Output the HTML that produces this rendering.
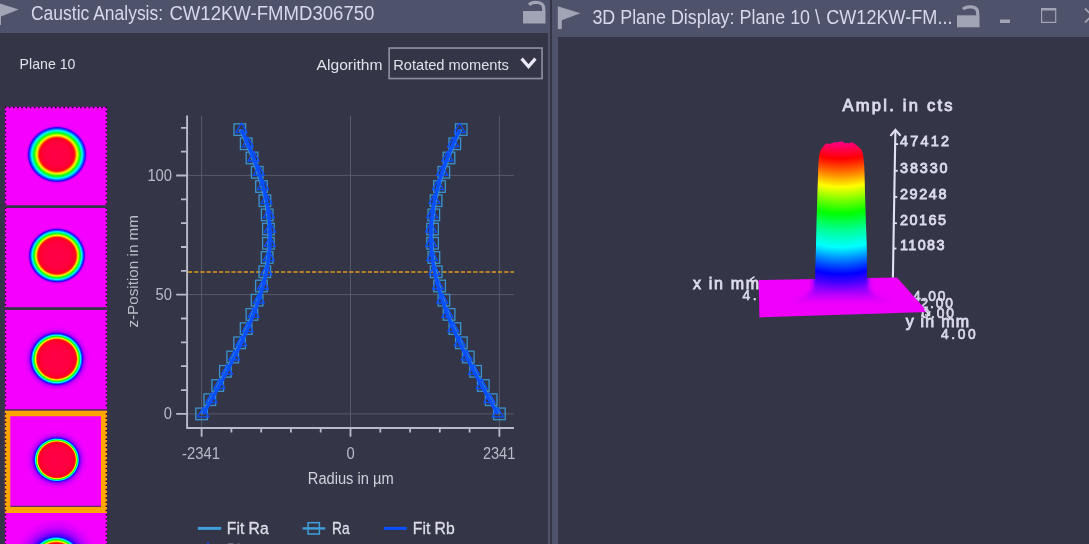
<!DOCTYPE html>
<html lang="en">
<head>
<meta charset="utf-8">
<title>Caustic Analysis</title>
<style>
html,body{margin:0;padding:0;}
body{width:1089px;height:544px;overflow:hidden;background:#343547;position:relative;font-family:"Liberation Sans",sans-serif;color:#dcdde6;}
.abs{position:absolute;}
.t{position:absolute;white-space:nowrap;line-height:1;}
#ltitle{left:0;top:0;width:550px;height:33px;background:#4e526b;}
#rframe{left:552px;top:0;width:537px;height:544px;background:#4e526b;}
#rbody{left:558px;top:37px;width:532px;height:507px;background:#343547;}
#strip1{left:548px;top:33px;width:2px;height:511px;background:#4e526b;}
#strip2{left:550px;top:0;width:2px;height:544px;background:#343547;}
.title{font-size:19.5px;color:#d6d9ec;}
.ui{font-size:14.6px;color:#e2e3ec;}
#sel{left:388.3px;top:47.2px;width:151.4px;height:29px;border:1.6px solid #8b8d9d;}
.thumb{position:absolute;left:4.6px;width:102.6px;background:#f500ff;overflow:hidden;}
.ax{font-size:16px;fill:#babbc9;font-family:"Liberation Sans",sans-serif;}
.lg{font-size:17.2px;fill:#dcdde8;stroke:#dcdde8;stroke-width:0.35px;font-family:"Liberation Sans",sans-serif;}
.b3{font-weight:normal;fill:#dadaec;stroke:#dadaec;stroke-width:0.65px;font-family:"Liberation Sans",sans-serif;}
svg{position:absolute;left:0;top:0;}
</style>
</head>
<body>
<!-- left panel -->
<div class="abs" id="ltitle"></div>
<div class="abs" id="strip1"></div>
<div class="abs" id="strip2"></div>
<div class="abs" id="rframe"></div>
<div class="abs" id="rbody"></div>



<svg width="1089" height="544" viewBox="0 0 1089 544">
<defs>
<linearGradient id="colg" gradientUnits="userSpaceOnUse" x1="0" y1="142" x2="0" y2="305"><stop offset="0.0000" stop-color="#ff0088"/><stop offset="0.0368" stop-color="#ff0058"/><stop offset="0.0675" stop-color="#ff0030"/><stop offset="0.1025" stop-color="#ff0000"/><stop offset="0.1534" stop-color="#ff4400"/><stop offset="0.2086" stop-color="#ff9400"/><stop offset="0.2761" stop-color="#ffff00"/><stop offset="0.3436" stop-color="#90ff00"/><stop offset="0.4387" stop-color="#00ff00"/><stop offset="0.5399" stop-color="#00ff90"/><stop offset="0.6460" stop-color="#00ffff"/><stop offset="0.7239" stop-color="#0080ff"/><stop offset="0.8098" stop-color="#0000ff"/><stop offset="0.8589" stop-color="#3c00ff"/><stop offset="0.9018" stop-color="#8000ff" stop-opacity="0.55"/><stop offset="0.9448" stop-color="#c400fc" stop-opacity="0"/><stop offset="0.9877" stop-color="#f000fa" stop-opacity="0"/></linearGradient><linearGradient id="colg2" gradientUnits="userSpaceOnUse" x1="0" y1="142" x2="0" y2="305"><stop offset="0.0000" stop-color="#ff0088"/><stop offset="0.0368" stop-color="#ff0058"/><stop offset="0.0675" stop-color="#ff0030"/><stop offset="0.1025" stop-color="#ff0000"/><stop offset="0.1534" stop-color="#ff4400"/><stop offset="0.2086" stop-color="#ff9400"/><stop offset="0.2761" stop-color="#ffff00"/><stop offset="0.3436" stop-color="#90ff00"/><stop offset="0.4387" stop-color="#00ff00"/><stop offset="0.5399" stop-color="#00ff90"/><stop offset="0.6460" stop-color="#00ffff"/><stop offset="0.7239" stop-color="#0080ff"/><stop offset="0.8098" stop-color="#0000ff"/><stop offset="0.8589" stop-color="#3c00ff"/><stop offset="0.9018" stop-color="#8000ff"/><stop offset="0.9448" stop-color="#c400fc"/><stop offset="0.9877" stop-color="#f000fa"/></linearGradient>
<filter id="blur3" x="-20%" y="-20%" width="140%" height="140%"><feGaussianBlur stdDeviation="2.4"/></filter>
<clipPath id="planeclip"><path d="M758.7 280 L897 277.5 L927.7 312 L759.4 317.4 Z"/></clipPath>
<clipPath id="colclip"><path d="M815 293 L815.2 270 L815.9 250 L817.2 200 L818.3 166 L819.2 154.7 L820.9 149.7 L822.6 147.5 L824.3 145.2 L826.0 143.8 L827.7 143.6 L829.4 144.0 L831.0 143.4 L832.7 143.1 L834.4 141.9 L836.1 142.5 L837.8 141.9 L839.5 141.7 L841.2 141.6 L842.9 141.8 L844.6 143.2 L846.3 143.0 L848.0 143.0 L849.7 143.2 L851.4 142.2 L853.0 142.8 L854.7 144.0 L856.4 145.1 L858.1 146.6 L859.8 148.4 L861.5 149.6 L863.2 155.4 L864.2 166 L865.2 200 L866.8 250 L866.9 270 L867 293 Z"/></clipPath>
<radialGradient id="tg0" gradientUnits="userSpaceOnUse" cx="57.0" cy="154.5" r="31.5" gradientTransform="translate(0 154.5) scale(1 0.9452) translate(0 -154.5)"><stop offset="0.0000" stop-color="#ff0048"/><stop offset="0.3956" stop-color="#ff0040"/><stop offset="0.5255" stop-color="#ff0028"/><stop offset="0.5651" stop-color="#ff2000"/><stop offset="0.6055" stop-color="#ff9800"/><stop offset="0.6458" stop-color="#f8ff00"/><stop offset="0.7064" stop-color="#30ff00"/><stop offset="0.7468" stop-color="#00ff40"/><stop offset="0.8006" stop-color="#00ffff"/><stop offset="0.8545" stop-color="#0070ff"/><stop offset="0.9016" stop-color="#2800ff"/><stop offset="0.9213" stop-color="#7c00ff"/><stop offset="0.9331" stop-color="#c000ff"/><stop offset="0.9626" stop-color="#e400ff"/><stop offset="1.0000" stop-color="#f500ff"/></radialGradient>
<clipPath id="tc0"><rect x="4.6" y="106.6" width="102.6" height="98.9"/></clipPath>
<radialGradient id="tg1" gradientUnits="userSpaceOnUse" cx="57.0" cy="255.6" r="30.5" gradientTransform="translate(0 255.6) scale(1 0.9609) translate(0 -255.6)"><stop offset="0.0000" stop-color="#ff0048"/><stop offset="0.4407" stop-color="#ff0040"/><stop offset="0.5854" stop-color="#ff0028"/><stop offset="0.6295" stop-color="#ff2000"/><stop offset="0.6610" stop-color="#ff9800"/><stop offset="0.6925" stop-color="#f8ff00"/><stop offset="0.7397" stop-color="#30ff00"/><stop offset="0.7711" stop-color="#00ff40"/><stop offset="0.8131" stop-color="#00ffff"/><stop offset="0.8551" stop-color="#0070ff"/><stop offset="0.8918" stop-color="#2800ff"/><stop offset="0.9134" stop-color="#7c00ff"/><stop offset="0.9264" stop-color="#c000ff"/><stop offset="0.9589" stop-color="#e400ff"/><stop offset="1.0000" stop-color="#f500ff"/></radialGradient>
<clipPath id="tc1"><rect x="4.6" y="207.9" width="102.6" height="99.5"/></clipPath>
<radialGradient id="tg2" gradientUnits="userSpaceOnUse" cx="56.7" cy="358.9" r="33.0" gradientTransform="translate(0 358.9) scale(1 0.9888) translate(0 -358.9)"><stop offset="0.0000" stop-color="#ff0048"/><stop offset="0.4200" stop-color="#ff0040"/><stop offset="0.5580" stop-color="#ff0028"/><stop offset="0.6000" stop-color="#ff2000"/><stop offset="0.6218" stop-color="#ff9800"/><stop offset="0.6436" stop-color="#f8ff00"/><stop offset="0.6764" stop-color="#30ff00"/><stop offset="0.6982" stop-color="#00ff40"/><stop offset="0.7273" stop-color="#00ffff"/><stop offset="0.7564" stop-color="#0070ff"/><stop offset="0.7818" stop-color="#2800ff"/><stop offset="0.8121" stop-color="#7c00ff"/><stop offset="0.8516" stop-color="#c000ff"/><stop offset="0.9171" stop-color="#e400ff"/><stop offset="1.0000" stop-color="#f500ff"/></radialGradient>
<clipPath id="tc2"><rect x="4.6" y="309.9" width="102.6" height="99.6"/></clipPath>
<radialGradient id="tg3" gradientUnits="userSpaceOnUse" cx="56.8" cy="459.8" r="31.0" gradientTransform="translate(0 459.8) scale(1 0.9649) translate(0 -459.8)"><stop offset="0.0000" stop-color="#ff0048"/><stop offset="0.4200" stop-color="#ff0040"/><stop offset="0.5580" stop-color="#ff0028"/><stop offset="0.6000" stop-color="#ff2000"/><stop offset="0.6151" stop-color="#ff9800"/><stop offset="0.6302" stop-color="#f8ff00"/><stop offset="0.6528" stop-color="#30ff00"/><stop offset="0.6679" stop-color="#00ff40"/><stop offset="0.6881" stop-color="#00ffff"/><stop offset="0.7082" stop-color="#0070ff"/><stop offset="0.7258" stop-color="#2800ff"/><stop offset="0.7581" stop-color="#7c00ff"/><stop offset="0.8135" stop-color="#c000ff"/><stop offset="0.8958" stop-color="#e400ff"/><stop offset="1.0000" stop-color="#f500ff"/></radialGradient>
<clipPath id="tc3"><rect x="4.6" y="410.5" width="102.6" height="102.5"/></clipPath>
<radialGradient id="tg4" gradientUnits="userSpaceOnUse" cx="56.2" cy="562.0" r="43.0" gradientTransform="translate(0 562.0) scale(1 1.0000) translate(0 -562.0)"><stop offset="0.0000" stop-color="#ff0048"/><stop offset="0.3158" stop-color="#ff0040"/><stop offset="0.4196" stop-color="#ff0028"/><stop offset="0.4512" stop-color="#ff2000"/><stop offset="0.4673" stop-color="#ff9800"/><stop offset="0.4835" stop-color="#f8ff00"/><stop offset="0.5078" stop-color="#30ff00"/><stop offset="0.5240" stop-color="#00ff40"/><stop offset="0.5456" stop-color="#00ffff"/><stop offset="0.5672" stop-color="#0070ff"/><stop offset="0.5860" stop-color="#2000ff"/><stop offset="0.6274" stop-color="#5c00ff"/><stop offset="0.7102" stop-color="#a400ff"/><stop offset="0.8344" stop-color="#d800ff"/><stop offset="1.0000" stop-color="#f500ff"/></radialGradient>
<clipPath id="tc4"><rect x="4.6" y="513.0" width="102.6" height="32.0"/></clipPath>
</defs>
<!-- thumbnails -->
<g clip-path="url(#tc0)"><rect x="4.6" y="106.6" width="102.6" height="98.9" fill="#f500ff"/><ellipse cx="57.0" cy="154.5" rx="31.5" ry="29.8" fill="url(#tg0)"/><line x1="5.4" y1="106.6" x2="5.4" y2="205.5" stroke="#1c0024" stroke-width="1.6" stroke-dasharray="1.5 2.7" stroke-dashoffset="0.0"/><line x1="106.4" y1="106.6" x2="106.4" y2="205.5" stroke="#1c0024" stroke-width="1.6" stroke-dasharray="1.5 2.7" stroke-dashoffset="0.0"/><line x1="4.6" y1="107.4" x2="107.2" y2="107.4" stroke="#1c0024" stroke-width="1.6" stroke-dasharray="1.5 2.7"/></g>
<g clip-path="url(#tc1)"><rect x="4.6" y="207.9" width="102.6" height="99.5" fill="#f500ff"/><ellipse cx="57.0" cy="255.6" rx="30.5" ry="29.3" fill="url(#tg1)"/><line x1="5.4" y1="207.9" x2="5.4" y2="307.4" stroke="#1c0024" stroke-width="1.6" stroke-dasharray="1.5 2.7" stroke-dashoffset="0.5"/><line x1="106.4" y1="207.9" x2="106.4" y2="307.4" stroke="#1c0024" stroke-width="1.6" stroke-dasharray="1.5 2.7" stroke-dashoffset="0.5"/></g>
<g clip-path="url(#tc2)"><rect x="4.6" y="309.9" width="102.6" height="99.6" fill="#f500ff"/><ellipse cx="56.7" cy="358.9" rx="33.0" ry="32.6" fill="url(#tg2)"/><line x1="5.4" y1="309.9" x2="5.4" y2="409.5" stroke="#1c0024" stroke-width="1.6" stroke-dasharray="1.5 2.7" stroke-dashoffset="1.7"/><line x1="106.4" y1="309.9" x2="106.4" y2="409.5" stroke="#1c0024" stroke-width="1.6" stroke-dasharray="1.5 2.7" stroke-dashoffset="1.7"/></g>
<g clip-path="url(#tc3)"><rect x="4.6" y="410.5" width="102.6" height="102.5" fill="#f500ff"/><ellipse cx="56.8" cy="459.8" rx="31.0" ry="29.9" fill="url(#tg3)"/><path d="M4.6 410.5 H107.2 V513.0 H4.6 Z M10.3 416.3 V506.7 H101.0 V416.3 Z" fill="#ffa500" fill-rule="evenodd"/><rect x="10.3" y="505.8" width="90.7" height="1" fill="#45285c"/><line x1="5.4" y1="410.5" x2="5.4" y2="513.0" stroke="#1c0024" stroke-width="1.6" stroke-dasharray="1.5 2.7" stroke-dashoffset="1.5"/><line x1="106.4" y1="410.5" x2="106.4" y2="513.0" stroke="#1c0024" stroke-width="1.6" stroke-dasharray="1.5 2.7" stroke-dashoffset="1.5"/></g>
<g clip-path="url(#tc4)"><rect x="4.6" y="513.0" width="102.6" height="32.0" fill="#f500ff"/><ellipse cx="56.2" cy="562.0" rx="43.0" ry="43.0" fill="url(#tg4)"/><line x1="5.4" y1="513.0" x2="5.4" y2="545.0" stroke="#1c0024" stroke-width="1.6" stroke-dasharray="1.5 2.7" stroke-dashoffset="3.2"/><line x1="106.4" y1="513.0" x2="106.4" y2="545.0" stroke="#1c0024" stroke-width="1.6" stroke-dasharray="1.5 2.7" stroke-dashoffset="3.2"/></g>
<!-- title icons -->
<g fill="#a0a4b4">
 <path d="M-4 2.2 L18.7 9.4 L1 16.4 L1 25 L-4 25 Z"/>
 <path d="M557.8 6.2 L580.4 13.2 L561.8 20.2 L561.8 28.9 L557.8 28.9 Z"/>
 <rect x="523" y="11" width="22.5" height="12.5"/>
 <rect x="957" y="15.3" width="22.5" height="12"/>
 <rect x="1000" y="19.5" width="10" height="3.5"/>
 <path d="M1041 8 H1056.3 V23 H1041 Z M1042.2 10.6 V21.8 H1055.1 V10.6 Z" fill-rule="evenodd"/>
</g>
<g fill="none" stroke="#a0a4b4" stroke-width="2.2">
 <path d="M529 4.8 C532 1.6 543.7 0.6 543.7 8.5 V11.5" stroke-width="3.2"/>
 <path d="M963 9.2 C966 6 977.7 5 977.7 12.9 V15.8" stroke-width="3.2"/>
 <path d="M1085 8.5 L1099 22.5 M1099 8.5 L1085 22.5" stroke-width="1.8"/>
</g>
<rect x="389.15" y="48.05" width="152.9" height="30.5" fill="none" stroke="#8b8d9d" stroke-width="1.7"/>
<path d="M521.6 58.6 L528.5 66.6 L535.4 58.6" fill="none" stroke="#e9e9f6" stroke-width="3.2"/>

<g font-family="Liberation Sans, sans-serif">
<text y="20" font-size="19.4" fill="#d6d9ec"><tspan x="31" textLength="132.1" lengthAdjust="spacingAndGlyphs">Caustic Analysis:</tspan> <tspan x="169.4" textLength="205" lengthAdjust="spacingAndGlyphs">CW12KW-FMMD306750</tspan></text>
<text y="23.7" font-size="19.4" fill="#d6d9ec"><tspan x="592.4" textLength="142.1" lengthAdjust="spacingAndGlyphs">3D Plane Display:</tspan> <tspan x="739.5" textLength="80.5" lengthAdjust="spacingAndGlyphs">Plane 10 \</tspan> <tspan x="826.2" textLength="126.3" lengthAdjust="spacingAndGlyphs">CW12KW-FM...</tspan></text>
<text x="19.6" y="68.8" font-size="14.2" fill="#e0e1ea" textLength="55.8" lengthAdjust="spacingAndGlyphs">Plane 10</text>
<text x="316.6" y="69.7" font-size="14.4" fill="#e0e1ea" textLength="65.9" lengthAdjust="spacingAndGlyphs">Algorithm</text>
<text x="393.2" y="69.75" font-size="14.8" fill="#e0e1ea" textLength="115.7" lengthAdjust="spacingAndGlyphs">Rotated moments</text>
</g>
<!-- chart -->
<line x1="201.6" y1="115.5" x2="201.6" y2="428" stroke="#575a6b" stroke-width="1"/>
<line x1="350.5" y1="115.5" x2="350.5" y2="428" stroke="#575a6b" stroke-width="1"/>
<line x1="499.4" y1="115.5" x2="499.4" y2="428" stroke="#575a6b" stroke-width="1"/>
<line x1="187.5" y1="175.4" x2="514" y2="175.4" stroke="#575a6b" stroke-width="1"/>
<line x1="187.5" y1="294.6" x2="514" y2="294.6" stroke="#575a6b" stroke-width="1"/>
<line x1="187.5" y1="413.9" x2="514" y2="413.9" stroke="#575a6b" stroke-width="1"/>
<path d="M187.1 115.5 V428 H514" fill="none" stroke="#b9bbca" stroke-width="1.9"/>
<path d="M176.2 413.9 H187.5 M181 390.1 H187.5 M181 366.2 H187.5 M181 342.4 H187.5 M181 318.5 H187.5 M176.2 294.7 H187.5 M181 270.9 H187.5 M181 247.0 H187.5 M181 223.2 H187.5 M181 199.3 H187.5 M176.2 175.5 H187.5 M181 151.7 H187.5 M181 127.8 H187.5 M201.6 428 V436.8 M231.4 428 V432.6 M261.2 428 V432.6 M290.9 428 V432.6 M320.7 428 V432.6 M350.5 428 V436.8 M380.3 428 V432.6 M410.1 428 V432.6 M439.8 428 V432.6 M469.6 428 V432.6 M499.4 428 V436.8" fill="none" stroke="#b9bbca" stroke-width="1.8"/>
<line x1="188" y1="272" x2="514" y2="272" stroke="#e0981c" stroke-width="1.5" stroke-dasharray="4.2 2"/>
<g fill="none" stroke="#3a93cf" stroke-width="1.3"><rect x="195.8" y="408.1" width="11.6" height="11.6"/><rect x="493.6" y="408.1" width="11.6" height="11.6"/><rect x="204.0" y="393.9" width="11.6" height="11.6"/><rect x="485.4" y="393.9" width="11.6" height="11.6"/><rect x="211.9" y="379.7" width="11.6" height="11.6"/><rect x="477.5" y="379.7" width="11.6" height="11.6"/><rect x="219.6" y="365.5" width="11.6" height="11.6"/><rect x="469.8" y="365.5" width="11.6" height="11.6"/><rect x="226.9" y="351.2" width="11.6" height="11.6"/><rect x="462.5" y="351.2" width="11.6" height="11.6"/><rect x="233.8" y="337.0" width="11.6" height="11.6"/><rect x="455.6" y="337.0" width="11.6" height="11.6"/><rect x="240.3" y="322.8" width="11.6" height="11.6"/><rect x="449.1" y="322.8" width="11.6" height="11.6"/><rect x="246.1" y="308.6" width="11.6" height="11.6"/><rect x="443.3" y="308.6" width="11.6" height="11.6"/><rect x="251.3" y="294.4" width="11.6" height="11.6"/><rect x="438.1" y="294.4" width="11.6" height="11.6"/><rect x="255.6" y="280.2" width="11.6" height="11.6"/><rect x="433.8" y="280.2" width="11.6" height="11.6"/><rect x="259.0" y="266.0" width="11.6" height="11.6"/><rect x="430.4" y="266.0" width="11.6" height="11.6"/><rect x="261.3" y="251.7" width="11.6" height="11.6"/><rect x="428.1" y="251.7" width="11.6" height="11.6"/><rect x="262.6" y="237.5" width="11.6" height="11.6"/><rect x="426.8" y="237.5" width="11.6" height="11.6"/><rect x="262.6" y="223.3" width="11.6" height="11.6"/><rect x="426.8" y="223.3" width="11.6" height="11.6"/><rect x="261.4" y="209.1" width="11.6" height="11.6"/><rect x="428.0" y="209.1" width="11.6" height="11.6"/><rect x="259.1" y="194.9" width="11.6" height="11.6"/><rect x="430.3" y="194.9" width="11.6" height="11.6"/><rect x="255.7" y="180.7" width="11.6" height="11.6"/><rect x="433.7" y="180.7" width="11.6" height="11.6"/><rect x="251.4" y="166.5" width="11.6" height="11.6"/><rect x="438.0" y="166.5" width="11.6" height="11.6"/><rect x="246.2" y="152.2" width="11.6" height="11.6"/><rect x="443.2" y="152.2" width="11.6" height="11.6"/><rect x="240.4" y="138.0" width="11.6" height="11.6"/><rect x="449.0" y="138.0" width="11.6" height="11.6"/><rect x="234.0" y="123.8" width="11.6" height="11.6"/><rect x="455.4" y="123.8" width="11.6" height="11.6"/></g>
<polyline points="201.6,413.9 203.0,411.5 204.4,409.2 205.7,406.8 207.1,404.4 208.4,402.1 209.8,399.7 211.1,397.3 212.5,394.9 213.8,392.6 215.1,390.2 216.4,387.8 217.7,385.5 219.0,383.1 220.3,380.7 221.6,378.4 222.9,376.0 224.1,373.6 225.4,371.3 226.6,368.9 227.9,366.5 229.1,364.1 230.3,361.8 231.5,359.4 232.7,357.0 233.9,354.7 235.1,352.3 236.2,349.9 237.4,347.6 238.5,345.2 239.6,342.8 240.7,340.5 241.8,338.1 242.9,335.7 244.0,333.4 245.0,331.0 246.1,328.6 247.1,326.2 248.1,323.9 249.1,321.5 250.0,319.1 251.0,316.8 251.9,314.4 252.8,312.0 253.7,309.7 254.6,307.3 255.4,304.9 256.3,302.6 257.1,300.2 257.8,297.8 258.6,295.4 259.3,293.1 260.1,290.7 260.7,288.3 261.4,286.0 262.0,283.6 262.6,281.2 263.2,278.9 263.8,276.5 264.3,274.1 264.8,271.8 265.3,269.4 265.7,267.0 266.1,264.6 266.5,262.3 266.8,259.9 267.1,257.5 267.4,255.2 267.7,252.8 267.9,250.4 268.1,248.1 268.2,245.7 268.4,243.3 268.4,241.0 268.5,238.6 268.5,236.2 268.5,233.8 268.5,231.5 268.4,229.1 268.3,226.7 268.1,224.4 267.9,222.0 267.7,219.6 267.5,217.3 267.2,214.9 266.9,212.5 266.5,210.2 266.2,207.8 265.8,205.4 265.3,203.1 264.9,200.7 264.4,198.3 263.9,195.9 263.3,193.6 262.7,191.2 262.1,188.8 261.5,186.5 260.8,184.1 260.1,181.7 259.4,179.4 258.7,177.0 258.0,174.6 257.2,172.3 256.4,169.9 255.5,167.5 254.7,165.1 253.8,162.8 252.9,160.4 252.0,158.0 251.1,155.7 250.2,153.3 249.2,150.9 248.2,148.6 247.2,146.2 246.2,143.8 245.2,141.5 244.1,139.1 243.1,136.7 242.0,134.3 240.9,132.0 239.8,129.6" fill="none" stroke="#3a93cf" stroke-width="2.4"/>
<polyline points="499.4,413.9 498.0,411.5 496.6,409.2 495.3,406.8 493.9,404.4 492.6,402.1 491.2,399.7 489.9,397.3 488.5,394.9 487.2,392.6 485.9,390.2 484.6,387.8 483.3,385.5 482.0,383.1 480.7,380.7 479.4,378.4 478.1,376.0 476.9,373.6 475.6,371.3 474.4,368.9 473.1,366.5 471.9,364.1 470.7,361.8 469.5,359.4 468.3,357.0 467.1,354.7 465.9,352.3 464.8,349.9 463.6,347.6 462.5,345.2 461.4,342.8 460.3,340.5 459.2,338.1 458.1,335.7 457.0,333.4 456.0,331.0 454.9,328.6 453.9,326.2 452.9,323.9 451.9,321.5 451.0,319.1 450.0,316.8 449.1,314.4 448.2,312.0 447.3,309.7 446.4,307.3 445.6,304.9 444.7,302.6 443.9,300.2 443.2,297.8 442.4,295.4 441.7,293.1 440.9,290.7 440.3,288.3 439.6,286.0 439.0,283.6 438.4,281.2 437.8,278.9 437.2,276.5 436.7,274.1 436.2,271.8 435.7,269.4 435.3,267.0 434.9,264.6 434.5,262.3 434.2,259.9 433.9,257.5 433.6,255.2 433.3,252.8 433.1,250.4 432.9,248.1 432.8,245.7 432.6,243.3 432.6,241.0 432.5,238.6 432.5,236.2 432.5,233.8 432.5,231.5 432.6,229.1 432.7,226.7 432.9,224.4 433.1,222.0 433.3,219.6 433.5,217.3 433.8,214.9 434.1,212.5 434.5,210.2 434.8,207.8 435.2,205.4 435.7,203.1 436.1,200.7 436.6,198.3 437.1,195.9 437.7,193.6 438.3,191.2 438.9,188.8 439.5,186.5 440.2,184.1 440.9,181.7 441.6,179.4 442.3,177.0 443.0,174.6 443.8,172.3 444.6,169.9 445.5,167.5 446.3,165.1 447.2,162.8 448.1,160.4 449.0,158.0 449.9,155.7 450.8,153.3 451.8,150.9 452.8,148.6 453.8,146.2 454.8,143.8 455.8,141.5 456.9,139.1 457.9,136.7 459.0,134.3 460.1,132.0 461.2,129.6" fill="none" stroke="#3a93cf" stroke-width="2.4"/>
<g fill="none" stroke="#0a50ff" stroke-width="1.3" stroke-linejoin="round"><path d="M203.2 407.3 L208.8 416.9 L197.6 416.9 Z"/><path d="M497.8 407.3 L503.4 416.9 L492.2 416.9 Z"/><path d="M211.4 393.1 L217.0 402.7 L205.8 402.7 Z"/><path d="M489.6 393.1 L495.2 402.7 L484.0 402.7 Z"/><path d="M219.3 378.9 L224.9 388.5 L213.7 388.5 Z"/><path d="M481.7 378.9 L487.3 388.5 L476.1 388.5 Z"/><path d="M227.0 364.7 L232.6 374.3 L221.4 374.3 Z"/><path d="M474.0 364.7 L479.6 374.3 L468.4 374.3 Z"/><path d="M234.3 350.4 L239.9 360.0 L228.7 360.0 Z"/><path d="M466.7 350.4 L472.3 360.0 L461.1 360.0 Z"/><path d="M241.2 336.2 L246.8 345.8 L235.6 345.8 Z"/><path d="M459.8 336.2 L465.4 345.8 L454.2 345.8 Z"/><path d="M247.7 322.0 L253.3 331.6 L242.1 331.6 Z"/><path d="M453.3 322.0 L458.9 331.6 L447.7 331.6 Z"/><path d="M253.5 307.8 L259.1 317.4 L247.9 317.4 Z"/><path d="M447.5 307.8 L453.1 317.4 L441.9 317.4 Z"/><path d="M258.7 293.6 L264.3 303.2 L253.1 303.2 Z"/><path d="M442.3 293.6 L447.9 303.2 L436.7 303.2 Z"/><path d="M263.0 279.4 L268.6 289.0 L257.4 289.0 Z"/><path d="M438.0 279.4 L443.6 289.0 L432.4 289.0 Z"/><path d="M266.4 265.2 L272.0 274.8 L260.8 274.8 Z"/><path d="M434.6 265.2 L440.2 274.8 L429.0 274.8 Z"/><path d="M268.7 250.9 L274.3 260.5 L263.1 260.5 Z"/><path d="M432.3 250.9 L437.9 260.5 L426.7 260.5 Z"/><path d="M269.9 236.7 L275.5 246.3 L264.3 246.3 Z"/><path d="M431.1 236.7 L436.7 246.3 L425.5 246.3 Z"/><path d="M270.0 222.5 L275.6 232.1 L264.4 232.1 Z"/><path d="M431.0 222.5 L436.6 232.1 L425.4 232.1 Z"/><path d="M268.8 208.3 L274.4 217.9 L263.2 217.9 Z"/><path d="M432.2 208.3 L437.8 217.9 L426.6 217.9 Z"/><path d="M266.5 194.1 L272.1 203.7 L260.9 203.7 Z"/><path d="M434.5 194.1 L440.1 203.7 L428.9 203.7 Z"/><path d="M263.1 179.9 L268.7 189.5 L257.5 189.5 Z"/><path d="M437.9 179.9 L443.5 189.5 L432.3 189.5 Z"/><path d="M258.8 165.7 L264.4 175.3 L253.2 175.3 Z"/><path d="M442.2 165.7 L447.8 175.3 L436.6 175.3 Z"/><path d="M253.6 151.4 L259.2 161.0 L248.0 161.0 Z"/><path d="M447.4 151.4 L453.0 161.0 L441.8 161.0 Z"/><path d="M247.8 137.2 L253.4 146.8 L242.2 146.8 Z"/><path d="M453.2 137.2 L458.8 146.8 L447.6 146.8 Z"/><path d="M241.4 123.0 L247.0 132.6 L235.8 132.6 Z"/><path d="M459.6 123.0 L465.2 132.6 L454.0 132.6 Z"/></g>
<polyline points="203.2,413.9 204.6,411.5 205.9,409.2 207.3,406.8 208.7,404.4 210.0,402.1 211.4,399.7 212.7,397.3 214.1,394.9 215.4,392.6 216.7,390.2 218.0,387.8 219.3,385.5 220.6,383.1 221.9,380.7 223.2,378.4 224.5,376.0 225.7,373.6 227.0,371.3 228.2,368.9 229.5,366.5 230.7,364.1 231.9,361.8 233.1,359.4 234.3,357.0 235.5,354.7 236.7,352.3 237.8,349.9 239.0,347.6 240.1,345.2 241.2,342.8 242.3,340.5 243.4,338.1 244.5,335.7 245.6,333.4 246.6,331.0 247.7,328.6 248.7,326.2 249.7,323.9 250.7,321.5 251.6,319.1 252.6,316.8 253.5,314.4 254.4,312.0 255.3,309.7 256.2,307.3 257.0,304.9 257.8,302.6 258.7,300.2 259.4,297.8 260.2,295.4 260.9,293.1 261.6,290.7 262.3,288.3 263.0,286.0 263.6,283.6 264.2,281.2 264.8,278.9 265.4,276.5 265.9,274.1 266.4,271.8 266.9,269.4 267.3,267.0 267.7,264.6 268.1,262.3 268.4,259.9 268.7,257.5 269.0,255.2 269.3,252.8 269.5,250.4 269.7,248.1 269.8,245.7 269.9,243.3 270.0,241.0 270.1,238.6 270.1,236.2 270.1,233.8 270.0,231.5 270.0,229.1 269.8,226.7 269.7,224.4 269.5,222.0 269.3,219.6 269.1,217.3 268.8,214.9 268.5,212.5 268.1,210.2 267.8,207.8 267.4,205.4 266.9,203.1 266.5,200.7 266.0,198.3 265.4,195.9 264.9,193.6 264.3,191.2 263.7,188.8 263.1,186.5 262.4,184.1 261.7,181.7 261.0,179.4 260.3,177.0 259.5,174.6 258.8,172.3 258.0,169.9 257.1,167.5 256.3,165.1 255.4,162.8 254.5,160.4 253.6,158.0 252.7,155.7 251.8,153.3 250.8,150.9 249.8,148.6 248.8,146.2 247.8,143.8 246.8,141.5 245.7,139.1 244.7,136.7 243.6,134.3 242.5,132.0 241.4,129.6" fill="none" stroke="#0a50ff" stroke-width="3.6"/>
<polyline points="497.8,413.9 496.4,411.5 495.1,409.2 493.7,406.8 492.3,404.4 491.0,402.1 489.6,399.7 488.3,397.3 486.9,394.9 485.6,392.6 484.3,390.2 483.0,387.8 481.7,385.5 480.4,383.1 479.1,380.7 477.8,378.4 476.5,376.0 475.3,373.6 474.0,371.3 472.8,368.9 471.5,366.5 470.3,364.1 469.1,361.8 467.9,359.4 466.7,357.0 465.5,354.7 464.3,352.3 463.2,349.9 462.0,347.6 460.9,345.2 459.8,342.8 458.7,340.5 457.6,338.1 456.5,335.7 455.4,333.4 454.4,331.0 453.3,328.6 452.3,326.2 451.3,323.9 450.3,321.5 449.4,319.1 448.4,316.8 447.5,314.4 446.6,312.0 445.7,309.7 444.8,307.3 444.0,304.9 443.2,302.6 442.3,300.2 441.6,297.8 440.8,295.4 440.1,293.1 439.4,290.7 438.7,288.3 438.0,286.0 437.4,283.6 436.8,281.2 436.2,278.9 435.6,276.5 435.1,274.1 434.6,271.8 434.1,269.4 433.7,267.0 433.3,264.6 432.9,262.3 432.6,259.9 432.3,257.5 432.0,255.2 431.7,252.8 431.5,250.4 431.3,248.1 431.2,245.7 431.1,243.3 431.0,241.0 430.9,238.6 430.9,236.2 430.9,233.8 431.0,231.5 431.0,229.1 431.2,226.7 431.3,224.4 431.5,222.0 431.7,219.6 431.9,217.3 432.2,214.9 432.5,212.5 432.9,210.2 433.2,207.8 433.6,205.4 434.1,203.1 434.5,200.7 435.0,198.3 435.6,195.9 436.1,193.6 436.7,191.2 437.3,188.8 437.9,186.5 438.6,184.1 439.3,181.7 440.0,179.4 440.7,177.0 441.5,174.6 442.2,172.3 443.0,169.9 443.9,167.5 444.7,165.1 445.6,162.8 446.5,160.4 447.4,158.0 448.3,155.7 449.2,153.3 450.2,150.9 451.2,148.6 452.2,146.2 453.2,143.8 454.2,141.5 455.3,139.1 456.3,136.7 457.4,134.3 458.5,132.0 459.6,129.6" fill="none" stroke="#0a50ff" stroke-width="3.6"/>
<text class="ax" x="147.4" y="180.8" textLength="24.6" lengthAdjust="spacingAndGlyphs">100</text>
<text class="ax" x="155.6" y="300" textLength="16.4" lengthAdjust="spacingAndGlyphs">50</text>
<text class="ax" x="163.8" y="419.3" textLength="8.2" lengthAdjust="spacingAndGlyphs">0</text>
<text class="ax" x="182" y="458.6" textLength="37.9" lengthAdjust="spacingAndGlyphs">-2341</text>
<text class="ax" x="346.4" y="458.6" textLength="8.2" lengthAdjust="spacingAndGlyphs">0</text>
<text class="ax" x="482.9" y="458.6" textLength="32.4" lengthAdjust="spacingAndGlyphs">2341</text>
<text class="ax" x="307.8" y="484.1" style="font-size:15.6px;fill:#d0d1dc" textLength="85.9" lengthAdjust="spacingAndGlyphs">Radius in µm</text>
<text class="ax" transform="translate(138.2 327.6) rotate(-90)" style="font-size:14.8px;fill:#bcbdc9" textLength="112.6" lengthAdjust="spacingAndGlyphs">z-Position in mm</text>
<!-- legend -->
<line x1="197.8" y1="528.4" x2="221.2" y2="528.4" stroke="#3f9edb" stroke-width="3"/>
<text class="lg" x="226.8" y="533.6" textLength="41.9" lengthAdjust="spacingAndGlyphs">Fit Ra</text>
<line x1="302.6" y1="528.4" x2="325.2" y2="528.4" stroke="#3f9edb" stroke-width="2.4"/>
<rect x="308.1" y="522.7" width="11.3" height="11.3" fill="none" stroke="#3f9edb" stroke-width="1.5"/>
<text class="lg" x="332" y="533.6" textLength="17.6" lengthAdjust="spacingAndGlyphs">Ra</text>
<line x1="383.8" y1="528.4" x2="406.6" y2="528.4" stroke="#0a50ff" stroke-width="3"/>
<text class="lg" x="412.8" y="533.6" textLength="41.9" lengthAdjust="spacingAndGlyphs">Fit Rb</text>
<path d="M208 543.3 L214 553.8 L202 553.8 Z" fill="none" stroke="#0a50ff" stroke-width="1.5"/>
<text class="lg" x="226.8" y="555.6" textLength="18" lengthAdjust="spacingAndGlyphs">Rb</text>

<!-- 3D view -->
<text class="b3" x="693" y="288.7" style="font-size:16px;stroke-width:0.85px" textLength="66" lengthAdjust="spacing">x in mm</text>
<text class="b3" x="742.5" y="300.4" style="font-size:13.8px" textLength="34.5" lengthAdjust="spacing">4.00</text>
<text class="b3" x="913" y="300.9" style="font-size:13.8px" textLength="32.4" lengthAdjust="spacing">4.00</text>
<text class="b3" x="920.5" y="308.2" style="font-size:13.8px" textLength="32.4" lengthAdjust="spacing">2.00</text>
<text class="b3" x="921.5" y="317.6" style="font-size:13.8px" textLength="32.4" lengthAdjust="spacing">0.00</text>
<path d="M758.7 280 L897 277.5 L927.7 312 L759.4 317.4 Z" fill="#f000fa"/>
<path d="M754.5 276.6 L750.6 279.4 L753.8 283.4" fill="none" stroke="#dddee6" stroke-width="1.5"/>
<path d="M895.4 130 L892.9 277.6" fill="none" stroke="#e2e2f2" stroke-width="2.1"/>
<path d="M890.4 135.8 L895.4 129.8 L900.6 135.8" fill="none" stroke="#e2e2f2" stroke-width="2.1"/>
<path d="M895.2 144.1 h3" stroke="#e2e2f2" stroke-width="1.8"/>
<path d="M894.8 170.8 h3" stroke="#e2e2f2" stroke-width="1.8"/>
<path d="M894.3 197.0 h3" stroke="#e2e2f2" stroke-width="1.8"/>
<path d="M893.9 223.2 h3" stroke="#e2e2f2" stroke-width="1.8"/>
<path d="M893.4 248.5 h3" stroke="#e2e2f2" stroke-width="1.8"/>
<g clip-path="url(#planeclip)"><path d="M814 268 L814 285 C814 293 805 297.5 792 300 L792 312 L890 312 L890 300 C877 297.5 868 293 868 285 L868 268 Z" fill="url(#colg2)" filter="url(#blur3)"/></g>
<g clip-path="url(#colclip)" fill="url(#colg)"><rect x="814.0" y="120" width="2.4" height="190" transform="translate(0 -3.60)"/><rect x="816.0" y="120" width="2.4" height="190" transform="translate(0 -3.07)"/><rect x="818.0" y="120" width="2.4" height="190" transform="translate(0 -2.58)"/><rect x="820.0" y="120" width="2.4" height="190" transform="translate(0 -2.13)"/><rect x="822.0" y="120" width="2.4" height="190" transform="translate(0 -1.73)"/><rect x="824.0" y="120" width="2.4" height="190" transform="translate(0 -1.36)"/><rect x="826.0" y="120" width="2.4" height="190" transform="translate(0 -1.04)"/><rect x="828.0" y="120" width="2.4" height="190" transform="translate(0 -0.77)"/><rect x="830.0" y="120" width="2.4" height="190" transform="translate(0 -0.53)"/><rect x="832.0" y="120" width="2.4" height="190" transform="translate(0 -0.34)"/><rect x="834.0" y="120" width="2.4" height="190" transform="translate(0 -0.19)"/><rect x="836.0" y="120" width="2.4" height="190" transform="translate(0 -0.09)"/><rect x="838.0" y="120" width="2.4" height="190" transform="translate(0 -0.02)"/><rect x="840.0" y="120" width="2.4" height="190" transform="translate(0 -0.00)"/><rect x="842.0" y="120" width="2.4" height="190" transform="translate(0 -0.02)"/><rect x="844.0" y="120" width="2.4" height="190" transform="translate(0 -0.09)"/><rect x="846.0" y="120" width="2.4" height="190" transform="translate(0 -0.19)"/><rect x="848.0" y="120" width="2.4" height="190" transform="translate(0 -0.34)"/><rect x="850.0" y="120" width="2.4" height="190" transform="translate(0 -0.53)"/><rect x="852.0" y="120" width="2.4" height="190" transform="translate(0 -0.77)"/><rect x="854.0" y="120" width="2.4" height="190" transform="translate(0 -1.04)"/><rect x="856.0" y="120" width="2.4" height="190" transform="translate(0 -1.36)"/><rect x="858.0" y="120" width="2.4" height="190" transform="translate(0 -1.73)"/><rect x="860.0" y="120" width="2.4" height="190" transform="translate(0 -2.13)"/><rect x="862.0" y="120" width="2.4" height="190" transform="translate(0 -2.58)"/><rect x="864.0" y="120" width="2.4" height="190" transform="translate(0 -3.07)"/><rect x="866.0" y="120" width="2.4" height="190" transform="translate(0 -3.60)"/></g>
<text class="b3" x="842.6" y="111.2" style="font-size:16.5px;stroke-width:0.9px" textLength="110" lengthAdjust="spacing">Ampl. in cts</text>
<text class="b3" x="900" y="145.8" style="font-size:14.4px;stroke-width:0.85px" textLength="49" lengthAdjust="spacing">47412</text>
<text class="b3" x="900" y="172.5" style="font-size:14.4px;stroke-width:0.85px" textLength="47.6" lengthAdjust="spacing">38330</text>
<text class="b3" x="900" y="198.7" style="font-size:14.4px;stroke-width:0.85px" textLength="46.5" lengthAdjust="spacing">29248</text>
<text class="b3" x="900" y="224.9" style="font-size:14.4px;stroke-width:0.85px" textLength="46" lengthAdjust="spacing">20165</text>
<text class="b3" x="900" y="250.2" style="font-size:14.4px;stroke-width:0.85px" textLength="44.5" lengthAdjust="spacing">11083</text>
<text class="b3" x="905.7" y="326.6" style="font-size:16px;stroke-width:0.85px" textLength="63.3" lengthAdjust="spacing">y in mm</text>
<text class="b3" x="941" y="339" style="font-size:13.8px" textLength="34.6" lengthAdjust="spacing">4.00</text>
<path d="M924.5 309 L929.5 315.5 M925 314.8 L929.5 315.5 L929.8 311" fill="none" stroke="#dddee6" stroke-width="1.4"/>
</svg>
</body>
</html>
